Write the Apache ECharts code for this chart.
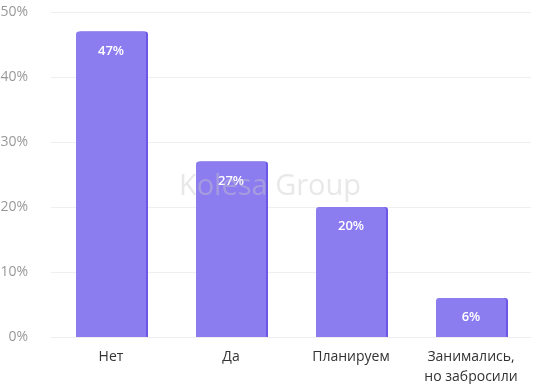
<!DOCTYPE html>
<html>
<head>
<meta charset="utf-8">
<script src="https://cdn.jsdelivr.net/npm/echarts@6/dist/echarts.min.js"></script>
<style>html,body{margin:0;padding:0;background:#fff}#c{width:540px;height:384px}</style>
</head>
<body>
<div id="c"></div>
<script>
const categories = ['Нет', 'Да', 'Планируем', 'Занимались,\nно забросили'];
const values = [47, 27, 20, 6];
const yTicks = { min: 0, max: 50, interval: 10 };

const chart = echarts.init(document.getElementById('c'), null, { renderer: 'canvas' });
chart.setOption({
  animation: false,
  textStyle: { fontFamily: 'Open Sans' },
  grid: { left: 51, right: 9, top: 12, bottom: 47, containLabel: false, outerBoundsMode: 'none' },
  xAxis: {
    type: 'category',
    data: categories,
    axisLine: { show: true, lineStyle: { color: '#eeeeee' } },
    axisTick: { show: false },
    axisLabel: { interval: 0, color: '#333', fontSize: 14, lineHeight: 20, margin: 10, fontFamily: 'Open Sans' }
  },
  yAxis: {
    type: 'value',
    min: yTicks.min, max: yTicks.max, interval: yTicks.interval,
    axisLine: { show: false }, axisTick: { show: false },
    splitLine: { lineStyle: { color: '#efefef' } },
    axisLabel: { color: '#999', fontSize: 14, margin: 23, formatter: '{value}%', fontFamily: 'Open Sans' }
  },
  series: [{
    type: 'bar',
    data: values,
    barWidth: 70,
    itemStyle: {
      color: '#8b7cf0',
      borderRadius: [3, 3, 0, 0],
      shadowColor: '#6b58e6',
      shadowOffsetX: 2,
      shadowBlur: 0
    },
    label: {
      show: true, position: 'insideTop', distance: 13,
      color: '#fff', fontSize: 13, fontWeight: 600, formatter: '{c}%', fontFamily: 'Open Sans'
    }
  }],
  graphic: [{
    type: 'text', left: 'center', top: 172, z: 100,
    style: { text: 'Kolesa Group', fontSize: 29, fontFamily: 'Open Sans', fill: 'rgba(200,200,200,0.42)' }
  }]
});
</script>
</body>
</html>
